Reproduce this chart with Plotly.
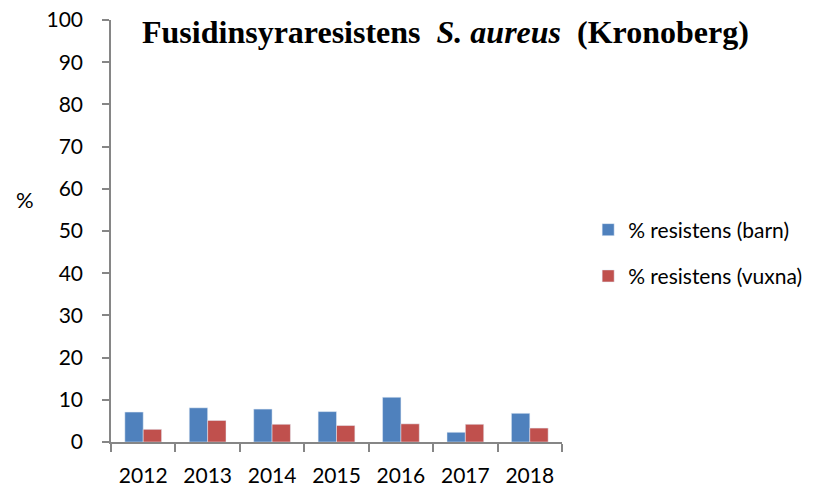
import plotly.graph_objects as go

years = ["2012", "2013", "2014", "2015", "2016", "2017", "2018"]
barn = [7.1, 8.1, 7.8, 7.2, 10.6, 2.3, 6.8]
vuxna = [3.0, 5.1, 4.2, 3.9, 4.3, 4.2, 3.3]
y_ticks = [0, 10, 20, 30, 40, 50, 60, 70, 80, 90, 100]

fig = go.Figure()
fig.add_trace(go.Bar(x=years, y=barn, name="% resistens (barn)",
                     marker=dict(color="#4F81BD"), legendgroup="a"))
fig.add_trace(go.Bar(x=years, y=vuxna, name="% resistens (vuxna)",
                     marker=dict(color="#C0504D"), legendgroup="b"))

fig.update_layout(
    width=835, height=489,
    margin=dict(l=111, r=273, t=20, b=47),
    paper_bgcolor="white", plot_bgcolor="white",
    barmode="group", bargap=0.43, bargroupgap=0,
    font=dict(family="Lato, Open Sans, sans-serif", size=21, color="black"),
    showlegend=True,
    legend=dict(x=1.058, y=0.551, xanchor="left", yanchor="top",
                traceorder="grouped", tracegroupgap=16,
                font=dict(size=21), bgcolor="rgba(0,0,0,0)"),
    xaxis=dict(type="category", showline=True, linecolor="#868686", linewidth=1.5,
               ticks="outside", tickson="boundaries", ticklen=8, tickcolor="#868686",
               tickwidth=1.5, showgrid=False, ticklabelstandoff=14, automargin=False,
               ticklabeloverflow="allow"),
    yaxis=dict(range=[0, 100], tickvals=y_ticks, showline=True, linecolor="#868686",
               linewidth=1.5, ticks="outside", ticklen=7, tickcolor="#868686",
               tickwidth=1.5, showgrid=False, zeroline=False, ticklabelstandoff=15,
               automargin=False, ticklabeloverflow="allow"),
)

fig.add_annotation(
    text="<b>Fusidinsyraresistens  <i>S. aureus</i>  (Kronoberg)</b>",
    xref="paper", yref="paper", x=0.7417, y=0.972, xanchor="center", yanchor="middle",
    showarrow=False, font=dict(family="Liberation Serif, Times New Roman, serif", size=32, color="black"))
fig.add_annotation(
    text="%", xref="paper", yref="paper", x=-0.191, y=0.574, xanchor="center", yanchor="middle",
    showarrow=False, font=dict(size=22))

fig.write_html("out.html", config={"displayModeBar": False},
               post_script="document.body.style.margin='0';")
